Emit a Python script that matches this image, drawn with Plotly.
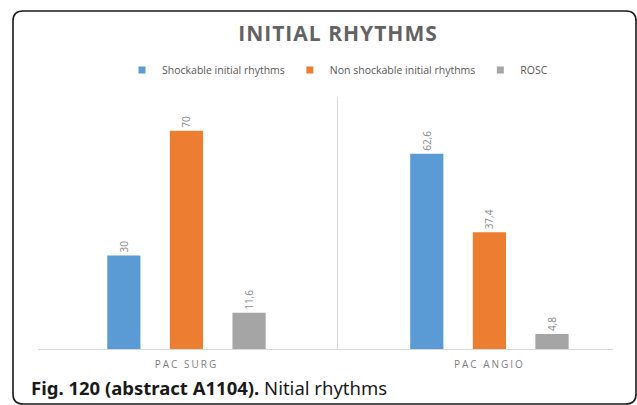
import plotly.graph_objects as go

categories = ["PAC SURG", "PAC ANGIO"]
shockable = [30, 62.6]
non_shockable = [70, 37.4]
rosc = [11.6, 4.8]
series_names = ["Shockable initial rhythms", "Non shockable initial rhythms", "ROSC"]
colors = ["#5B9BD5", "#ED7D31", "#A5A5A5"]

def fmt(v):
    s = ("%g" % v)
    return s.replace(".", ",")

fig = go.Figure()
for name, vals, col in zip(series_names, [shockable, non_shockable, rosc], colors):
    fig.add_trace(go.Bar(
        x=categories, y=vals, name=name, marker=dict(color=col, line=dict(width=0)),
        text=[fmt(v) for v in vals], textposition="outside", textangle=-90,
        textfont=dict(family="Open Sans", size=10, color="#8a8a8a"),
        cliponaxis=False, showlegend=False,
    ))
    fig.add_trace(go.Scatter(
        x=[None], y=[None], mode="markers", name=name,
        marker=dict(symbol="square", size=7, color=col), showlegend=True,
    ))

L, R, T, B = 38, 613, 97, 349
W, H = 637, 405
pw, ph = R - L, B - T

def px(x):
    return (x - L) / pw

def py(y):
    return (B - y) / ph

x0, x1, y0, y1, r = 13, 636, 11, 404, 10
path = (
    f"M {px(x0 + r)},{py(y0)} L {px(x1 - r)},{py(y0)} "
    f"Q {px(x1)},{py(y0)} {px(x1)},{py(y0 + r)} "
    f"L {px(x1)},{py(y1 - r)} Q {px(x1)},{py(y1)} {px(x1 - r)},{py(y1)} "
    f"L {px(x0 + r)},{py(y1)} Q {px(x0)},{py(y1)} {px(x0)},{py(y1 - r)} "
    f"L {px(x0)},{py(y0 + r)} Q {px(x0)},{py(y0)} {px(x0 + r)},{py(y0)} Z"
)

tick_text = [f"<span style='letter-spacing:2px'>{c}</span>" for c in categories]

fig.update_layout(
    width=W, height=H,
    margin=dict(l=L, r=W - R, t=T, b=H - B, pad=0),
    paper_bgcolor="white", plot_bgcolor="white",
    barmode="group", bargap=0.38, bargroupgap=0.47,
    title=dict(text="<b><span style='letter-spacing:1px'>INITIAL RHYTHMS</span></b>", x=338 / W, xanchor="center",
               y=1 - 34 / H, yanchor="middle", yref="container",
               font=dict(family="Open Sans", size=21, color="#636363")),
    legend=dict(orientation="h", x=px(122), y=py(70), xanchor="left", yanchor="middle",
                font=dict(family="Open Sans", size=10.5, color="#595959"),
                itemwidth=30, bgcolor="rgba(0,0,0,0)"),
    xaxis=dict(range=[-0.49, 1.408], showline=True, linecolor="#d9d9d9", linewidth=1,
               showgrid=True, gridcolor="#d9d9d9", tickson="boundaries", ticks="",
               tickmode="array", tickvals=categories, ticktext=tick_text,
               tickfont=dict(family="Open Sans", size=10, color="#7f7f7f"),
               ticklabelstandoff=6, zeroline=False, fixedrange=True),
    yaxis=dict(range=[0, 80.8], visible=False, showgrid=False, zeroline=False),
    shapes=[dict(type="path", xref="paper", yref="paper", path=path,
                 line=dict(color="#1a1a1a", width=1.6), layer="above")],
    annotations=[dict(
        text="<b>Fig. 120 (abstract A1104).</b> Nitial rhythms",
        xref="paper", yref="paper", x=px(29), y=py(387), xanchor="left", yanchor="middle",
        showarrow=False, font=dict(family="Noto Sans", size=18.5, color="#1a1a1a"),
    )],
)

fig.write_html("out.html", config={"displayModeBar": False},
               post_script="document.body.style.margin='0';")
